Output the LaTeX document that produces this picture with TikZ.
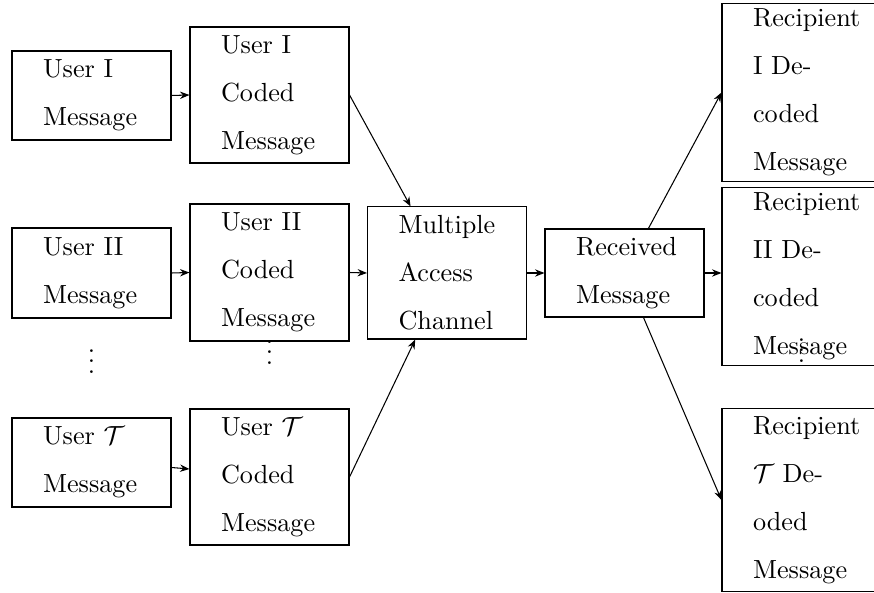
\documentclass[tikz,border=0pt]{standalone}
\usetikzlibrary{arrows.meta,calc}
\begin{document}
\begin{tikzpicture}[x=0.3817pt,y=-0.3817pt,
  blk/.style={draw, line width=0.4pt, text width=37pt, inner xsep=11.85pt,
    inner ysep=0pt, align=left, minimum height=#1},
  arr/.style={-{Stealth[length=3.6pt,width=2.8pt]}, line width=0.4pt},
  dotcol/.style={anchor=north, inner sep=0pt}]
\useasboundingbox (0,0) rectangle (874,593);
\clip (0,0) rectangle (874,593);

% senders
\node[blk=33.97pt] (U1) at (91.5,95.5) {User I\\[6.3pt]Message};
\node[blk=34.35pt] (U2) at (91.5,273) {User II\\[6.3pt]Message};
\node[blk=33.97pt] (UT) at (91.5,462.5) {User $\mathcal{T}$\\[6.3pt]Message};

% encoders
\node[blk=51.9pt] (C1) at (269.5,95) {User I\\[6.3pt]Coded\\[6.3pt]Message};
\node[blk=52.3pt] (C2) at (269.5,272.5) {User II\\[6.3pt]Coded\\[6.3pt]Message};
\node[blk=51.9pt] (CT) at (269.5,477) {User $\mathcal{T}$\\[6.3pt]Coded\\[6.3pt]Message};

% channel and receiver
\node[blk=50.4pt] (MAC) at (447,273) {Multiple\\[6.3pt]Access\\[6.3pt]Channel};
\node[blk=33.6pt] (REC) at (624.5,273) {Received\\[6.3pt]Message};

% decoders
\node[blk=68.3pt] (R1) at (801.5,92.5) {Recipient\\[6.3pt]I De-\\[6.3pt]coded\\[6.3pt]Message};
\node[blk=67.6pt] (R2) at (801.5,276.5) {Recipient\\[6.3pt]II De-\\[6.3pt]coded\\[6.3pt]Message};
\node[blk=70.2pt] (RT) at (801.5,500) {Recipient\\[6.3pt]$\mathcal{T}$ De-\\[6.3pt]oded\\[6.3pt]Message};

% ellipses between rows
\node[dotcol] (D1) at (91.5,333.5) {$\vdots$};
\node[dotcol] (D2) at (269.5,324.5) {$\vdots$};
\node[dotcol] (D3) at (801.5,322.5) {$\vdots$};

% connectors
\draw[arr] (U1.east) -- (C1.west);
\draw[arr] (U2.east) -- (C2.west);
\draw[arr] ($(UT.east)+(0,5)$) -- ($(CT.west)+(0,-8)$);
\draw[arr] (C1.east) -- (MAC);
\draw[arr] (C2.east) -- (MAC.west);
\draw[arr] (CT.east) -- (MAC);
\draw[arr] (MAC.east) -- (REC.west);
\draw[arr] (REC) -- (R1.west);
\draw[arr] (REC.east) -- (REC.east -| R2.west);
\draw[arr] (REC) -- (RT.west);
\end{tikzpicture}
\end{document}
